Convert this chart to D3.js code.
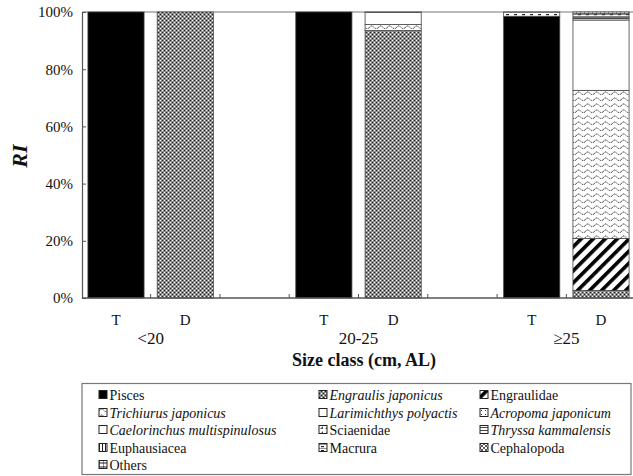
<!DOCTYPE html>
<html>
<head>
<meta charset="utf-8">
<script src="https://cdn.jsdelivr.net/npm/d3@7"></script>
<style>
  html, body { margin: 0; padding: 0; background: #fff; }
  svg, svg text { font-family: "Liberation Serif", "Times New Roman", "DejaVu Serif", serif; }
</style>
</head>
<body>
<svg id="chart" width="633" height="476"></svg>
<script>
const serif = "'Liberation Serif', 'Times New Roman', 'DejaVu Serif', serif";

// Size classes and the two bars drawn for each (T, D)
const sizeClasses = ["<20", "20-25", "\u226525"];
const barTypes = ["T", "D"];
// Bar slots along the x axis: a blank slot separates the size classes
const slots = ["T|<20", "D|<20", "gap1", "T|20-25", "D|20-25", "gap2", "T|\u226525", "D|\u226525"];
const barKeys = ["T|<20", "D|<20", "T|20-25", "D|20-25", "T|\u226525", "D|\u226525"];

// Prey groups, stacked bottom to top
const preyNames = [
  "Pisces", "Engraulis japonicus", "Engraulidae", "Trichiurus japonicus",
  "Larimichthys polyactis", "Acropoma japonicum", "Caelorinchus multispinulosus",
  "Sciaenidae", "Thryssa kammalensis", "Euphausiacea", "Macrura", "Cephalopoda", "Others"
];
const italicNames = ["Engraulis japonicus", "Trichiurus japonicus", "Larimichthys polyactis",
  "Acropoma japonicum", "Caelorinchus multispinulosus", "Thryssa kammalensis"];

// RI (%) per bar, in barKeys order
const pisces        = [100,   0, 100,    0, 98.5,    0];
const engraulis     = [  0, 100,   0, 93.5,    0,  2.6];
const engraulidae   = [  0,   0,   0,    0,    0, 18.2];
const trichiurus    = [  0,   0,   0,  2.1,    0, 51.8];
const larimichthys  = [  0,   0,   0,  4.2,    0, 24.6];
const acropoma      = [  0,   0,   0,    0,    0,    0];
const caelorinchus  = [  0,   0,   0,    0,    0,    0];
const sciaenidae    = [  0,   0,   0,    0,    0,    0];
const thryssa       = [  0,   0,   0,    0,    0,  1.0];
const euphausiacea  = [  0,   0,   0,    0,    0,    0];
const macrura       = [  0,   0,   0,    0,  1.5,  1.1];
const cephalopoda   = [  0,   0,   0,    0,    0,    0];
const others        = [  0,   0,   0,  0.2,    0,  0.7];

const seriesValues = [pisces, engraulis, engraulidae, trichiurus, larimichthys, acropoma,
  caelorinchus, sciaenidae, thryssa, euphausiacea, macrura, cephalopoda, others];

const yTicks = [0, 20, 40, 60, 80, 100];

const rows = barKeys.map((k, i) => {
  const r = { key: k };
  preyNames.forEach((n, j) => { r[n] = seriesValues[j][i]; });
  return r;
});

const svg = d3.select("#chart").attr("font-family", serif);
const margin = { left: 82, top: 12, bottom: 298 };

const x = d3.scaleBand().domain(slots).range([81, 636]).paddingInner(0.19).paddingOuter(0.1);
const y = d3.scaleLinear().domain([0, 100]).range([margin.bottom, margin.top]);

// ---- fill patterns ----
const defs = svg.append("defs");
function pat(id, w, h, build, transform) {
  const p = defs.append("pattern").attr("id", id).attr("patternUnits", "userSpaceOnUse")
    .attr("width", w).attr("height", h);
  if (transform) p.attr("patternTransform", transform);
  p.append("rect").attr("width", w).attr("height", h).attr("fill", "#fff");
  build(p);
}
// fine checker (Engraulis japonicus)
pat("p-engraulis", 4, 4, p => {
  p.select("rect").attr("fill", "#8c8c8c");
  [[0,0],[2,2]].forEach(([a,b]) => p.append("rect").attr("x",a).attr("y",b).attr("width",1).attr("height",1).attr("fill","#fff"));
  [[2,0],[0,2]].forEach(([a,b]) => p.append("rect").attr("x",a).attr("y",b).attr("width",1).attr("height",1).attr("fill","#222"));
});
// wide diagonal stripes (Engraulidae)
pat("p-engraulidae", 8.5, 8.5, p => {
  p.append("rect").attr("x", 0).attr("y", 0).attr("width", 3.6).attr("height", 8.5).attr("fill", "#000");
}, "rotate(45)");
// waves (Trichiurus japonicus)
pat("p-wave", 9, 6, p => {
  p.append("path").attr("d", "M0,4 Q2.25,0.5 4.5,3 T9,4").attr("fill", "none")
    .attr("stroke", "#333").attr("stroke-width", 1).attr("stroke-dasharray", "1.5,0.8");
});
// dots (Acropoma japonicum)
pat("p-dots", 4, 4, p => {
  p.append("rect").attr("x", 1).attr("y", 1).attr("width", 1).attr("height", 1).attr("fill", "#333");
});
// small triangles (Sciaenidae)
pat("p-sciaenidae", 5, 5, p => {
  p.append("path").attr("d", "M1,4 L4,1 L4,4 Z").attr("fill", "#555");
});
// horizontal lines (Thryssa kammalensis)
pat("p-hlines", 4, 3, p => {
  p.append("rect").attr("x", 0).attr("y", 0).attr("width", 4).attr("height", 0.9).attr("fill", "#333");
});
// vertical lines (Euphausiacea)
pat("p-vlines", 3, 4, p => {
  p.append("rect").attr("x", 0).attr("y", 0).attr("width", 1).attr("height", 4).attr("fill", "#222");
});
// dashes (Macrura)
pat("p-macrura", 8, 4, p => {
  p.append("rect").attr("x", 0).attr("y", 0).attr("width", 8).attr("height", 0.7).attr("fill", "#666");
  p.append("rect").attr("x", 2).attr("y", 2).attr("width", 3).attr("height", 1.2).attr("fill", "#222");
});
// crosses (Cephalopoda)
pat("p-cross", 4, 4, p => {
  p.append("path").attr("d", "M0,0 L4,4 M4,0 L0,4").attr("stroke", "#333").attr("stroke-width", 0.8);
});
// grid (Others)
pat("p-grid", 4, 4, p => {
  p.append("path").attr("d", "M0,2 H4 M0,0 V4").attr("stroke", "#222").attr("stroke-width", 1);
});

const fills = {
  "Pisces": "#000",
  "Engraulis japonicus": "url(#p-engraulis)",
  "Engraulidae": "url(#p-engraulidae)",
  "Trichiurus japonicus": "url(#p-wave)",
  "Larimichthys polyactis": "#fff",
  "Acropoma japonicum": "url(#p-dots)",
  "Caelorinchus multispinulosus": "#fff",
  "Sciaenidae": "url(#p-sciaenidae)",
  "Thryssa kammalensis": "url(#p-hlines)",
  "Euphausiacea": "url(#p-vlines)",
  "Macrura": "url(#p-macrura)",
  "Cephalopoda": "url(#p-cross)",
  "Others": "url(#p-grid)"
};

// ---- plot frame ----
svg.append("line").attr("x1", margin.left).attr("x2", 640)
  .attr("y1", y(100)).attr("y2", y(100)).attr("stroke", "#777").attr("stroke-width", 1.2);

// ---- stacked bars ----
const stack = d3.stack().keys(preyNames);
const layers = stack(rows);
svg.append("g").selectAll("g").data(layers).join("g")
  .attr("fill", d => fills[d.key])
  .selectAll("rect").data(d => d.filter(s => s[1] - s[0] > 0)).join("rect")
  .attr("x", d => x(d.data.key))
  .attr("width", x.bandwidth())
  .attr("y", d => y(d[1]))
  .attr("height", d => y(d[0]) - y(d[1]))
  .attr("stroke", "#444").attr("stroke-width", 0.8);

// ---- y axis ----
const yAxis = d3.axisLeft(y).tickValues(yTicks).tickFormat(d => d + "%")
  .tickSizeInner(-4).tickSizeOuter(0).tickPadding(9);
const gy = svg.append("g").attr("transform", `translate(${margin.left},0)`).call(yAxis)
  .attr("font-family", serif);
gy.select(".domain").attr("stroke", "#555").attr("stroke-width", 1.2);
gy.selectAll(".tick line").attr("stroke", "#555");
gy.selectAll(".tick text").attr("font-size", 15).attr("font-family", serif).attr("fill", "#111");

// ---- x axis ----
svg.append("line").attr("x1", margin.left).attr("x2", 640)
  .attr("y1", margin.bottom).attr("y2", margin.bottom).attr("stroke", "#555").attr("stroke-width", 1.4);
const gapHalf = x.step() * x.paddingInner() / 2;
svg.append("g").selectAll("line").data(slots.slice(1)).join("line")
  .attr("x1", d => x(d) - gapHalf).attr("x2", d => x(d) - gapHalf)
  .attr("y1", margin.bottom).attr("y2", margin.bottom - 4)
  .attr("stroke", "#555");

// T / D labels under each bar
svg.append("g").selectAll("text").data(barKeys).join("text")
  .attr("x", d => x(d) + x.bandwidth() / 2)
  .attr("y", 325)
  .attr("text-anchor", "middle").attr("font-size", 15).attr("font-family", serif).attr("fill", "#111")
  .text(d => d.split("|")[0]);

// size class labels, centred between T and D
svg.append("g").selectAll("text").data(sizeClasses).join("text")
  .attr("x", d => (x(barTypes[0] + "|" + d) + x(barTypes[1] + "|" + d) + x.bandwidth()) / 2)
  .attr("y", 344)
  .attr("text-anchor", "middle").attr("font-size", 17).attr("font-family", serif).attr("fill", "#111")
  .text(d => d);

svg.append("text").attr("x", 364).attr("y", 366)
  .attr("text-anchor", "middle").attr("font-size", 18).attr("font-weight", "bold")
  .attr("font-family", serif).attr("fill", "#111")
  .text("Size class (cm, AL)");

svg.append("text")
  .attr("transform", "translate(27,156) rotate(-90)")
  .attr("text-anchor", "middle").attr("font-size", 22).attr("font-weight", "bold")
  .attr("font-style", "italic").attr("font-family", serif).attr("fill", "#111")
  .text("RI");

// ---- legend ----
const legend = svg.append("g");
legend.append("rect").attr("x", 82).attr("y", 383.5).attr("width", 549).attr("height", 91)
  .attr("fill", "none").attr("stroke", "#777").attr("stroke-width", 1.2);

const colX = [99, 319, 480];
const rowY = [395, 413, 430, 448, 465];
const items = legend.selectAll("g.item").data(preyNames).join("g").attr("class", "item")
  .attr("transform", (d, i) => `translate(${colX[i % 3]},${rowY[Math.floor(i / 3)]})`);
items.append("rect").attr("x", 0).attr("y", -4.5).attr("width", 8).attr("height", 8)
  .attr("fill", d => fills[d]).attr("stroke", "#222").attr("stroke-width", 1);
items.append("text").attr("x", 10.5).attr("y", 5)
  .attr("font-size", 14).attr("font-family", serif).attr("fill", "#111")
  .attr("font-style", d => italicNames.includes(d) ? "italic" : "normal")
  .text(d => d);
</script>
</body>
</html>
